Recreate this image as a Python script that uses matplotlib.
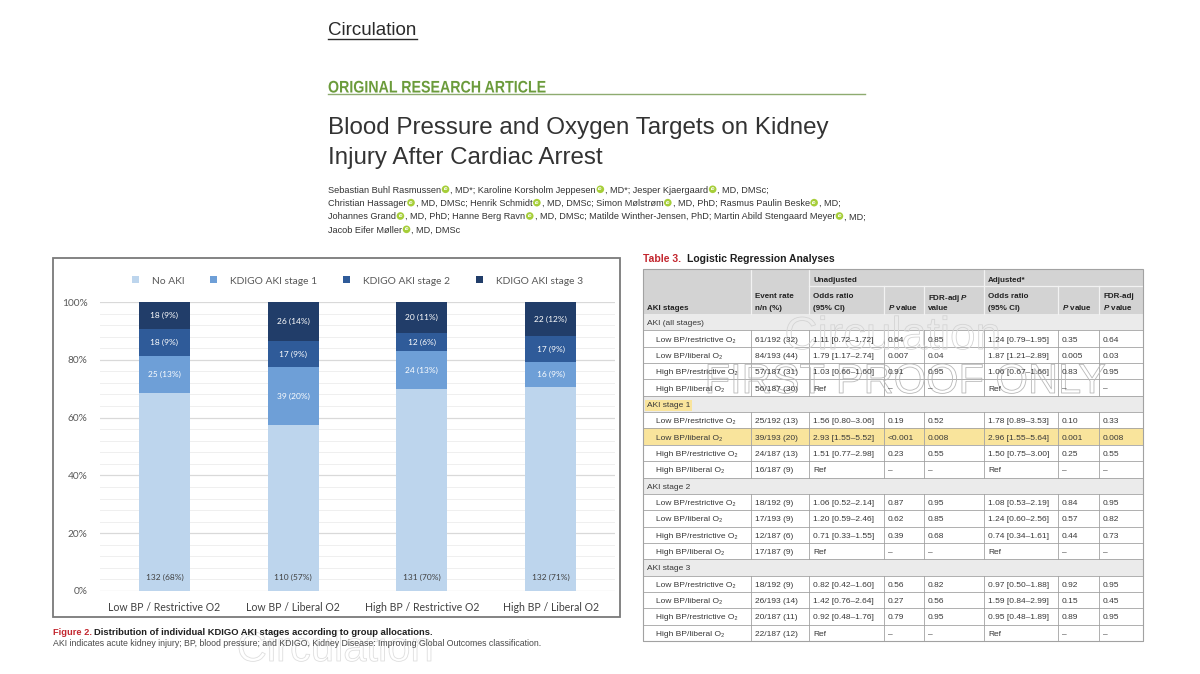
import matplotlib
matplotlib.use('Agg')
import matplotlib.pyplot as plt
import matplotlib.patches as mpatches
import matplotlib.patheffects as pe
from matplotlib.textpath import TextPath
from matplotlib.font_manager import FontProperties
from matplotlib.transforms import Affine2D
from matplotlib.ticker import MultipleLocator, PercentFormatter
import numpy as np

# ---- figure 2 data (counts per allocation group) ----
groups = ['Low BP / Restrictive O2', 'Low BP / Liberal O2', 'High BP / Restrictive O2', 'High BP / Liberal O2']
stages = ['No AKI', 'KDIGO AKI stage 1', 'KDIGO AKI stage 2', 'KDIGO AKI stage 3']
no_aki = [132, 110, 131, 132]
aki_stage1 = [25, 39, 24, 16]
aki_stage2 = [18, 17, 12, 17]
aki_stage3 = [18, 26, 20, 22]
stage_colors = ['#bdd5ed', '#6e9fd7', '#2f5b99', '#213d69']

# ---- table 3 data ----
table_groups = ['AKI (all stages)', 'AKI stage 1', 'AKI stage 2', 'AKI stage 3']
arms = ['Low BP/restrictive O\u2082', 'Low BP/liberal O\u2082', 'High BP/restrictive O\u2082', 'High BP/liberal O\u2082']
event_rate = [['61/192 (32)', '84/193 (44)', '57/187 (31)', '56/187 (30)'],
              ['25/192 (13)', '39/193 (20)', '24/187 (13)', '16/187 (9)'],
              ['18/192 (9)', '17/193 (9)', '12/187 (6)', '17/187 (9)'],
              ['18/192 (9)', '26/193 (14)', '20/187 (11)', '22/187 (12)']]
unadj_or = [['1.11 [0.72\u20131.72]', '1.79 [1.17\u20132.74]', '1.03 [0.66\u20131.60]', 'Ref'],
            ['1.56 [0.80\u20133.06]', '2.93 [1.55\u20135.52]', '1.51 [0.77\u20132.98]', 'Ref'],
            ['1.06 [0.52\u20132.14]', '1.20 [0.59\u20132.46]', '0.71 [0.33\u20131.55]', 'Ref'],
            ['0.82 [0.42\u20131.60]', '1.42 [0.76\u20132.64]', '0.92 [0.48\u20131.76]', 'Ref']]
unadj_p = [['0.64', '0.007', '0.91', '\u2013'],
           ['0.19', '<0.001', '0.23', '\u2013'],
           ['0.87', '0.62', '0.39', '\u2013'],
           ['0.56', '0.27', '0.79', '\u2013']]
unadj_fdr = [['0.85', '0.04', '0.95', '\u2013'],
             ['0.52', '0.008', '0.55', '\u2013'],
             ['0.95', '0.85', '0.68', '\u2013'],
             ['0.82', '0.56', '0.95', '\u2013']]
adj_or = [['1.24 [0.79\u20131.95]', '1.87 [1.21\u20132.89]', '1.06 [0.67\u20131.66]', 'Ref'],
          ['1.78 [0.89\u20133.53]', '2.96 [1.55\u20135.64]', '1.50 [0.75\u20133.00]', 'Ref'],
          ['1.08 [0.53\u20132.19]', '1.24 [0.60\u20132.56]', '0.74 [0.34\u20131.61]', 'Ref'],
          ['0.97 [0.50\u20131.88]', '1.59 [0.84\u20132.99]', '0.95 [0.48\u20131.89]', 'Ref']]
adj_p = [['0.35', '0.005', '0.83', '\u2013'],
         ['0.10', '0.001', '0.25', '\u2013'],
         ['0.84', '0.57', '0.44', '\u2013'],
         ['0.92', '0.15', '0.89', '\u2013']]
adj_fdr = [['0.64', '0.03', '0.95', '\u2013'],
           ['0.33', '0.008', '0.55', '\u2013'],
           ['0.95', '0.82', '0.73', '\u2013'],
           ['0.95', '0.45', '0.95', '\u2013']]

authors = ['Sebastian Buhl Rasmussen|, MD*; Karoline Korsholm Jeppesen|, MD*; Jesper Kjaergaard|, MD, DMSc;',
           'Christian Hassager|, MD, DMSc; Henrik Schmidt|, MD, DMSc; Simon M\u00f8lstr\u00f8m|, MD, PhD; Rasmus Paulin Beske|, MD;',
           'Johannes Grand|, MD, PhD; Hanne Berg Ravn|, MD, DMSc; Matilde Winther-Jensen, PhD; Martin Abild Stengaard Meyer|, MD;',
           'Jacob Eifer M\u00f8ller|, MD, DMSc']

plt.rcParams['mathtext.fontset'] = 'custom'
plt.rcParams['mathtext.it'] = 'Liberation Sans:italic:bold'
plt.rcParams['mathtext.rm'] = 'Liberation Sans:bold'

SANS = ['Liberation Sans', 'DejaVu Sans']
red = '#c3262e'
green = '#6b9b3b'
orcid = '#a6ce39'

fig = plt.figure(figsize=(12, 6.74), dpi=100)
# page axes in pixel units (y down)
pg = fig.add_axes([0, 0, 1, 1])
pg.set_xlim(0, 1200)
pg.set_ylim(674, 0)
pg.axis('off')
renderer = fig.canvas.get_renderer()

# ---- page header ----
pg.text(328, 35, 'Circulation', fontsize=13.5, family=SANS, color='#2a2a2a', va='baseline')
pg.plot([328, 417], [38.5, 38.5], color='#2a2a2a', lw=1)

# condensed bold heading: squeeze a bold text path horizontally
head = TextPath((0, 0), 'ORIGINAL RESEARCH ARTICLE', size=16.8,
                prop=FontProperties(family=SANS, weight='bold'))
sx = 217 / head.get_extents().width
head = head.transformed(Affine2D().scale(sx, -1).translate(328, 92.5))
pg.add_patch(mpatches.PathPatch(head, facecolor=green, lw=0))
pg.plot([328, 865], [93.5, 93.5], color='#8eab70', lw=1)

pg.text(328, 134, 'Blood Pressure and Oxygen Targets on Kidney', fontsize=17.4, family=SANS,
        color='#333333', va='baseline')
pg.text(328, 164, 'Injury After Cardiac Arrest', fontsize=17.4, family=SANS, color='#333333', va='baseline')


def text_runs(x, y, line, **kw):
    # text with orcid badges where the line has a "|"
    for i, part in enumerate(line.split('|')):
        if i > 0:
            pg.add_patch(mpatches.Circle((x + 4.4, y - 3.4), 3.8, color=orcid, lw=0, zorder=3))
            pg.text(x + 4.4, y - 3.3, 'iD', fontsize=2.7, color='white', fontweight='bold',
                    ha='center', va='center', zorder=4)
            x += 9.2
        t = pg.text(x, y, part, va='baseline', **kw)
        x += t.get_window_extent(renderer).width


for k, line in enumerate(authors):
    text_runs(328, 192.7 + 13.35 * k, line, fontsize=6.55, family=SANS, color='#333333')

# ---- figure panel ----
wm = [pe.Stroke(linewidth=0.6, foreground='#dedede')]
pg.text(335, 661, 'Circulation', fontsize=30, family=SANS, color='none', ha='center',
        va='baseline', path_effects=wm, zorder=1)
pg.add_patch(mpatches.Rectangle((53, 258), 567, 359, facecolor='white', edgecolor='#7a7a7a',
                                lw=1.3, zorder=3))
pg.text(53, 634.7, 'Figure 2.', fontsize=6.7, family=SANS, fontweight='bold', color=red,
        va='baseline', zorder=4)
pg.text(94, 634.7, 'Distribution of individual KDIGO AKI stages according to group allocations.',
        fontsize=6.75, family=SANS, fontweight='bold', color='#1e1e1e', va='baseline', zorder=4)
pg.text(53, 645.5, 'AKI indicates acute kidney injury; BP, blood pressure; and KDIGO, '
        'Kidney Disease: Improving Global Outcomes classification.',
        fontsize=6.3, family=SANS, color='#4a4a4a', va='baseline', zorder=4)

ax = fig.add_axes([100 / 1200, (674 - 591) / 674, 515 / 1200, 289 / 674])
ax.set_facecolor('none')
counts = np.array([no_aki, aki_stage1, aki_stage2, aki_stage3], dtype=float)
shares = counts / counts.sum(axis=0) * 100
x = np.arange(len(groups))
bottom = np.zeros(len(groups))
for i, (name, color) in enumerate(zip(stages, stage_colors)):
    ax.bar(x, shares[i], 0.395, bottom=bottom, color=color, label=name, zorder=3)
    for xi, b, h, n in zip(x, bottom, shares[i], counts[i]):
        label = f'{int(n)} ({h:.0f}%)'
        if i == 0:
            ax.text(xi, 4.6, label, ha='center', va='center', fontsize=6, family='Lato',
                    color='#404040', zorder=4)
        else:
            ax.text(xi, b + h / 2, label, ha='center', va='center', fontsize=6, family='Lato',
                    color='white', zorder=4)
    bottom += shares[i]

ax.set_xlim(-0.5, 3.5)
ax.set_ylim(0, 100)
ax.yaxis.set_major_locator(MultipleLocator(20))
ax.yaxis.set_minor_locator(MultipleLocator(4))
ax.yaxis.set_major_formatter(PercentFormatter(decimals=0))
ax.grid(axis='y', which='major', color='#d9d9d9', lw=0.9, zorder=0)
ax.grid(axis='y', which='minor', color='#efefef', lw=0.7, zorder=0)
ax.set_axisbelow(True)
for s in ax.spines.values():
    s.set_visible(False)
ax.set_xticks(x)
ax.set_xticklabels(groups)
ax.tick_params(which='both', length=0)
ax.tick_params(axis='y', pad=9, labelsize=7.3, labelcolor='#595959')
ax.tick_params(axis='x', pad=8, labelsize=7.6, labelcolor='#404040')
for lab in ax.get_xticklabels() + ax.get_yticklabels():
    lab.set_family('Lato')
ax.legend(loc='center', bbox_to_anchor=(0.5, 1 + 21 / 289), ncol=4, frameon=False,
          handlelength=0.65, handleheight=0.65, handletextpad=1.3, columnspacing=2.5,
          labelcolor='#595959', prop={'family': 'Lato', 'size': 7.4})

# ---- table 3 ----
cols = [643, 751, 809, 884, 924, 984, 1058, 1099, 1143]
top, mid, hbot, bot = 269, 286, 314, 641
row_h = (bot - hbot) / 20
line_c = '#a2a2a2'
txt_c = '#383838'
yellow = '#f9e49c'

pg.text(643, 261.7, 'Table 3.', fontsize=7.5, family=SANS, fontweight='bold', color=red, va='baseline')
pg.text(687, 261.7, 'Logistic Regression Analyses', fontsize=7.5, family=SANS, fontweight='bold',
        color='#1e1e1e', va='baseline')

pg.add_patch(mpatches.Rectangle((cols[0], top), cols[-1] - cols[0], hbot - top, facecolor='#d3d3d3',
                                edgecolor='none', zorder=5))
for cx in [cols[1], cols[2], cols[5]]:
    pg.plot([cx, cx], [top, hbot], color='#f2f2f2', lw=0.9, zorder=6)
for cx in [cols[3], cols[4], cols[6], cols[7]]:
    pg.plot([cx, cx], [mid, hbot], color='#f2f2f2', lw=0.9, zorder=6)
pg.plot([cols[2], cols[-1]], [mid, mid], color='#f2f2f2', lw=0.9, zorder=6)

hk = dict(fontsize=5.8, family=SANS, fontweight='bold', color='#222222', va='center_baseline', zorder=7)
pg.text(cols[2] + 4, 279, 'Unadjusted', **hk)
pg.text(cols[5] + 4, 279, 'Adjusted*', **hk)
y1, y2 = 296, 307
pg.text(cols[0] + 4, y2, 'AKI stages', **hk)
pg.text(cols[1] + 4, y1, 'Event rate', **hk)
pg.text(cols[1] + 4, y2, 'n/n (%)', **hk)
pg.text(cols[2] + 4, y1, 'Odds ratio', **hk)
pg.text(cols[2] + 4, y2, '(95% CI)', **hk)
pg.text(cols[3] + 4, y2, '$P$ value', **hk)
pg.text(cols[4] + 4, y1, 'FDR-adj $P$', **hk)
pg.text(cols[4] + 4, y2, 'value', **hk)
pg.text(cols[5] + 4, y1, 'Odds ratio', **hk)
pg.text(cols[5] + 4, y2, '(95% CI)', **hk)
pg.text(cols[6] + 4, y2, '$P$ value', **hk)
pg.text(cols[7] + 4, y1, 'FDR-adj', **hk)
pg.text(cols[7] + 4, y2, '$P$ value', **hk)

bk = dict(fontsize=6, family=SANS, color=txt_c, va='center_baseline', zorder=7)
r = 0
for g, gname in enumerate(table_groups):
    y0 = hbot + r * row_h
    pg.add_patch(mpatches.Rectangle((cols[0], y0), cols[-1] - cols[0], row_h, facecolor='#ebebeb',
                                    edgecolor='none', zorder=2))
    if gname == 'AKI stage 1':
        pg.text(cols[0] + 4, y0 + row_h / 2 + 0.5, gname, bbox=dict(facecolor=yellow, edgecolor='none', pad=1.2),
                **bk)
    else:
        pg.text(cols[0] + 4, y0 + row_h / 2 + 0.5, gname, **bk)
    pg.plot([cols[0], cols[-1]], [y0 + row_h, y0 + row_h], color=line_c, lw=0.6, zorder=3)
    r += 1
    for a in range(4):
        y0 = hbot + r * row_h
        yc = y0 + row_h / 2 + 0.5
        if g == 1 and a == 1:
            pg.add_patch(mpatches.Rectangle((cols[0], y0), cols[-1] - cols[0], row_h, facecolor=yellow,
                                            edgecolor='none', zorder=2))
        cells = [arms[a], event_rate[g][a], unadj_or[g][a], unadj_p[g][a], unadj_fdr[g][a],
                 adj_or[g][a], adj_p[g][a], adj_fdr[g][a]]
        for c, val in enumerate(cells):
            pg.text(cols[c] + (13 if c == 0 else 4), yc, val, **bk)
        for cx in cols[1:-1]:
            pg.plot([cx, cx], [y0, y0 + row_h], color=line_c, lw=0.6, zorder=3)
        pg.plot([cols[0], cols[-1]], [y0 + row_h, y0 + row_h], color=line_c, lw=0.6, zorder=3)
        r += 1
pg.add_patch(mpatches.Rectangle((cols[0], top), cols[-1] - cols[0], bot - top, facecolor='none',
                                edgecolor=line_c, lw=0.8, zorder=8))

# faint proof watermark over the table
pg.text(893, 349, 'Circulation', fontsize=33, family=SANS, color='none', ha='center', va='baseline',
        path_effects=[pe.Stroke(linewidth=0.6, foreground='#d4d4d4')], zorder=4)
pg.text(905, 393, 'FIRST PROOF ONLY', fontsize=30, family=SANS, color='none', ha='center',
        va='baseline', path_effects=[pe.Stroke(linewidth=0.6, foreground='#b8b8b8')], zorder=4)

fig.savefig('out.png', dpi=100)
